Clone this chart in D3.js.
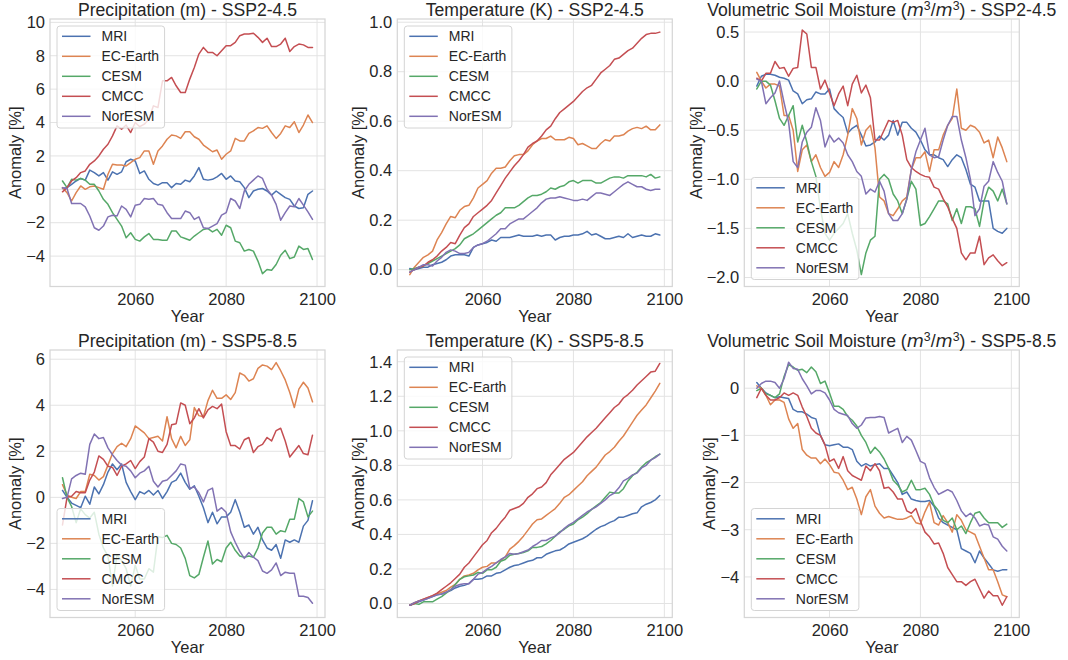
<!DOCTYPE html>
<html>
<head>
<meta charset="utf-8">
<script src="https://cdn.jsdelivr.net/npm/d3@7"></script>
<style>
  body { margin: 0; background: #ffffff; }
  svg text { font-family: "Liberation Sans", Arial, Helvetica, sans-serif; fill: #262626; }
</style>
</head>
<body>
<svg id="fig" width="1068" height="660"></svg>
<script>
// ---- data -------------------------------------------------------------
const years = d3.range(2044, 2100);
const models = ["MRI", "EC-Earth", "CESM", "CMCC", "NorESM"];
const palette = ["#4C72B0", "#DD8452", "#55A868", "#C44E52", "#8172B3"];
const xTicks = [2060, 2080, 2100];

// Precipitation anomaly [%], SSP2-4.5
const pr245MRI = [0.05,0.1,0.3,0.5,0.65,0.55,1.15,1.0,0.8,1.0, 0.55,1.05,0.9,1.05,1.65,1.8,1.7,0.95,1.1,0.6, 0.35,0.25,0.4,0.4,0.1,0.35,0.3,0.55,0.45,0.8, 1.3,0.6,0.55,0.6,0.75,0.95,0.6,0.8,0.5,0.45, 0.1,-0.5,-0.1,0.0,0.05,-0.1,-0.35,-0.1,-0.3,-0.5, -0.6,-1.0,-1.15,-1.1,-0.3,-0.1];
const pr245EC = [0.1,-0.2,-0.7,-0.2,0.2,0.0,0.15,0.2,0.1,0.0, 0.9,1.5,1.45,1.45,1.4,1.6,1.8,1.9,2.3,2.3, 1.5,2.3,2.6,3.0,3.25,3.2,3.05,3.45,3.45,3.15, 3.0,2.65,2.45,2.25,2.35,1.8,2.1,2.3,3.05,2.9, 2.9,3.35,3.5,3.7,3.65,3.8,3.4,3.05,3.35,3.8, 3.7,4.05,3.4,3.85,4.45,4.0];
const pr245CESM = [0.5,0.1,0.6,0.55,0.65,0.55,0.3,0.3,-0.1,-0.6, -0.9,-1.4,-1.8,-2.2,-2.9,-2.6,-3.0,-3.1,-2.85,-2.65, -3.0,-3.0,-3.05,-3.05,-2.5,-2.5,-2.85,-2.95,-3.05,-2.8, -2.6,-2.4,-2.35,-2.55,-2.4,-2.75,-2.15,-2.3,-3.1,-3.2, -3.7,-3.6,-3.7,-4.3,-5.05,-4.8,-4.85,-4.5,-3.95,-3.65, -4.15,-4.05,-3.4,-3.6,-3.55,-4.2];
const pr245CMCC = [-0.15,0.1,0.5,0.7,1.0,1.1,1.5,1.7,2.0,2.4, 2.7,3.2,3.8,3.6,3.85,3.4,4.0,3.75,3.9,4.2, 5.0,4.9,6.5,6.5,6.7,6.2,5.8,5.8,6.6,7.3, 8.1,8.5,8.2,8.2,8.0,8.3,8.6,8.6,8.8,9.2, 9.3,9.3,9.35,9.1,8.8,9.05,8.55,8.55,8.7,9.05, 8.25,8.55,8.7,8.65,8.5,8.5];
const pr245Nor = [0.1,0.05,-0.85,-0.85,-0.85,-1.05,-1.6,-2.3,-2.45,-2.2, -1.65,-1.55,-1.6,-1.0,-1.2,-1.65,-0.95,-0.9,-0.55,-0.6, -0.55,-0.9,-0.95,-1.4,-1.75,-1.75,-1.75,-1.3,-1.4,-1.8, -1.65,-2.3,-2.35,-2.2,-2.05,-1.55,-1.4,-0.55,-0.7,-1.15, -0.1,0.3,0.55,0.8,0.65,0.0,-0.35,-0.9,-1.85,-1.4, -1.0,-1.05,-0.55,-0.95,-1.35,-1.8];

// Temperature anomaly, SSP2-4.5
const ta245MRI = [0.005,0.0,0.005,0.01,0.01,0.02,0.025,0.03,0.04,0.055, 0.06,0.06,0.06,0.055,0.09,0.1,0.105,0.11,0.12,0.115, 0.13,0.13,0.13,0.135,0.14,0.135,0.135,0.135,0.14,0.135, 0.14,0.14,0.12,0.13,0.135,0.135,0.14,0.14,0.145,0.155, 0.14,0.145,0.135,0.125,0.125,0.13,0.135,0.13,0.145,0.13, 0.135,0.14,0.135,0.135,0.145,0.14];
const ta245EC = [-0.02,0.01,0.03,0.05,0.06,0.075,0.12,0.15,0.185,0.215, 0.21,0.24,0.255,0.26,0.29,0.33,0.345,0.36,0.39,0.41, 0.41,0.415,0.44,0.46,0.465,0.465,0.48,0.505,0.52,0.53, 0.53,0.54,0.525,0.525,0.525,0.535,0.53,0.505,0.51,0.5, 0.49,0.49,0.51,0.525,0.52,0.54,0.54,0.545,0.56,0.57, 0.575,0.57,0.58,0.565,0.565,0.585];
const ta245CESM = [0.0,0.005,0.01,0.015,0.025,0.035,0.045,0.055,0.065,0.075, 0.085,0.1,0.125,0.135,0.145,0.16,0.175,0.19,0.205,0.22, 0.23,0.25,0.25,0.25,0.26,0.275,0.29,0.3,0.3,0.305, 0.315,0.33,0.325,0.335,0.34,0.355,0.36,0.35,0.36,0.36, 0.36,0.35,0.35,0.36,0.37,0.375,0.375,0.37,0.38,0.38, 0.38,0.38,0.375,0.385,0.37,0.375];
const ta245CMCC = [-0.01,0.0,0.01,0.015,0.03,0.04,0.055,0.075,0.09,0.11, 0.105,0.14,0.17,0.185,0.215,0.23,0.245,0.26,0.28,0.31, 0.34,0.37,0.395,0.42,0.44,0.465,0.495,0.51,0.52,0.54, 0.565,0.58,0.61,0.635,0.65,0.665,0.68,0.7,0.72,0.735, 0.745,0.77,0.795,0.81,0.825,0.85,0.855,0.87,0.885,0.895, 0.915,0.935,0.95,0.955,0.955,0.96];
const ta245Nor = [-0.01,0.0,0.01,0.02,0.02,0.015,0.035,0.05,0.07,0.08, 0.075,0.065,0.065,0.07,0.09,0.1,0.105,0.115,0.13,0.145, 0.165,0.165,0.185,0.195,0.205,0.205,0.22,0.235,0.25,0.27, 0.285,0.29,0.29,0.295,0.29,0.285,0.28,0.28,0.285,0.28, 0.295,0.31,0.31,0.305,0.3,0.315,0.33,0.345,0.355,0.345, 0.335,0.335,0.325,0.32,0.325,0.325];

// Volumetric soil moisture anomaly, SSP2-4.5
const sm245MRI = [-0.05,0.05,0.07,0.07,0.06,0.04,0.03,0.01,-0.1,-0.13, -0.23,-0.19,-0.18,-0.11,-0.13,-0.13,-0.08,-0.28,-0.33,-0.37, -0.53,-0.48,-0.45,-0.55,-0.66,-0.65,-0.62,-0.56,-0.6,-0.55, -0.4,-0.55,-0.42,-0.42,-0.48,-0.52,-0.6,-0.7,-0.75,-0.75, -0.78,-0.8,-0.87,-0.8,-0.75,-0.78,-0.9,-1.05,-1.08,-1.22, -1.22,-1.22,-1.5,-1.53,-1.55,-1.5];
const sm245EC = [0.09,0.0,-0.07,-0.03,-0.03,-0.05,-0.35,-0.35,-0.5,-0.92, -0.7,-0.65,-0.82,-0.75,-0.88,-0.97,-0.93,-0.82,-0.88,-0.75, -0.55,-0.28,-0.38,-0.65,-0.5,-0.45,-0.68,-1.18,-1.22,-1.35, -1.37,-1.3,-1.22,-1.18,-0.9,-0.78,-0.78,-0.72,-0.92,-0.7, -0.7,-0.55,-0.45,-0.38,-0.08,-0.48,-0.5,-0.45,-0.47,-0.52, -0.63,-0.6,-0.78,-0.57,-0.68,-0.82];
const sm245CESM = [-0.08,0.0,0.0,-0.04,-0.2,-0.38,-0.45,-0.35,-0.25,-0.62, -0.45,-0.62,-0.82,-0.97,-1.3,-1.55,-1.62,-1.55,-1.5,-1.45, -1.35,-1.55,-1.72,-1.97,-1.75,-1.62,-1.58,-1.0,-0.95,-1.0, -1.15,-1.22,-1.35,-1.2,-1.02,-1.1,-1.47,-1.45,-1.38,-1.3, -1.22,-1.22,-1.25,-1.42,-1.3,-1.45,-1.28,-1.28,-1.3,-1.48, -1.22,-1.08,-1.12,-1.22,-1.1,-1.25];
const sm245CMCC = [0.03,0.0,0.08,0.08,0.2,0.13,0.14,0.05,0.13,0.14, 0.52,0.48,0.14,0.14,-0.08,0.01,-0.12,-0.25,-0.13,-0.05, -0.25,-0.03,0.06,-0.12,-0.04,-0.17,-0.6,-0.6,-0.5,-0.4, -0.42,-0.4,-0.55,-0.8,-0.88,-0.92,-0.95,-0.97,-0.98,-1.08, -1.1,-1.2,-1.28,-1.4,-1.5,-1.75,-1.82,-1.75,-1.75,-1.58, -1.87,-1.8,-1.77,-1.83,-1.88,-1.85];
const sm245Nor = [0.02,0.0,-0.23,-0.17,-0.12,0.0,-0.22,-0.42,-0.82,-0.88, -0.62,-0.52,-0.47,-0.27,-0.4,-0.67,-0.55,-0.62,-0.58,-0.63, -0.75,-0.82,-0.92,-0.97,-1.15,-1.1,-1.13,-1.02,-1.12,-1.35, -1.42,-1.42,-1.35,-1.2,-0.9,-0.72,-0.6,-0.48,-0.75,-0.78, -0.77,-0.6,-0.45,-0.36,-0.36,-0.6,-0.78,-1.0,-1.37,-1.3, -1.07,-1.02,-0.82,-0.93,-1.02,-1.25];

// Precipitation anomaly [%], SSP5-8.5
const pr585MRI = [0.3,0.0,-0.25,-0.35,-0.45,0.05,-0.3,0.45,0.15,0.55, 1.1,1.45,1.2,1.45,0.65,0.25,-0.1,0.25,0.15,0.3, 0.1,0.3,-0.05,0.25,0.65,0.75,1.05,0.65,0.35,0.5, 0.05,-0.45,-1.1,-0.65,-1.15,-0.85,-0.85,-0.65,-0.1,-0.65, -1.3,-1.2,-1.6,-1.3,-1.85,-2.2,-2.3,-2.05,-2.65,-1.85, -1.95,-1.85,-1.95,-1.25,-1.0,-0.15];
const pr585EC = [0.55,0.1,0.0,-0.05,0.25,0.25,1.0,0.95,0.75,0.9, 1.4,1.9,2.2,2.35,2.2,2.55,3.1,2.95,2.8,2.55, 2.6,2.65,2.45,3.5,2.55,2.15,2.65,2.25,2.5,3.9, 3.55,3.5,4.2,4.65,4.3,4.3,4.45,4.25,4.55,5.4, 5.3,5.05,5.15,5.6,5.75,5.7,5.55,5.85,5.5,5.1, 4.55,3.9,4.7,5.0,4.75,4.15];
const pr585CESM = [0.85,0.0,-0.4,-1.1,-0.5,-0.75,-0.9,-0.65,-1.6,-2.2, -2.55,-3.85,-2.5,-2.75,-3.1,-3.85,-2.95,-3.55,-3.55,-3.1, -3.25,-1.7,-1.75,-1.65,-2.0,-2.05,-2.2,-2.65,-3.4,-3.5, -3.35,-2.6,-1.9,-2.9,-2.7,-2.8,-2.2,-1.95,-2.3,-2.55, -2.6,-2.55,-2.6,-2.2,-1.55,-1.3,-1.3,-1.6,-1.45,-1.5, -0.95,-0.95,-0.05,-0.2,-0.85,-0.6];
const pr585CMCC = [-1.2,0.0,0.05,0.25,0.2,0.2,0.75,1.1,1.8,1.65, 1.35,1.3,0.95,1.35,1.45,1.6,1.25,1.55,1.75,2.55, 2.4,2.0,1.95,2.3,3.15,3.2,4.1,4.0,3.2,3.45, 3.85,3.45,3.8,3.95,3.85,4.05,2.85,2.25,2.25,2.1, 2.5,2.6,1.95,2.2,2.3,2.6,2.45,2.9,3.0,2.45, 1.75,2.0,2.25,1.9,1.85,2.7];
const pr585Nor = [-0.05,0.0,0.8,0.95,1.05,1.0,2.3,2.75,2.55,2.6, 2.15,1.85,1.6,1.4,1.35,1.15,0.85,1.05,1.15,1.35, 0.7,0.45,0.7,0.75,0.95,1.15,1.45,1.4,0.4,0.45, 0.2,-0.2,0.3,0.4,-0.6,-0.45,-0.65,-1.5,-1.95,-2.35, -2.65,-2.4,-2.6,-2.75,-3.2,-3.3,-3.15,-2.85,-3.4,-3.25, -3.3,-3.3,-4.3,-4.3,-4.35,-4.6];

// Temperature anomaly, SSP5-8.5
const ta585MRI = [-0.01,0.0,0.01,0.02,0.03,0.04,0.05,0.055,0.065,0.075, 0.09,0.1,0.105,0.115,0.14,0.14,0.145,0.16,0.16,0.175, 0.18,0.195,0.21,0.22,0.225,0.235,0.245,0.25,0.265,0.265, 0.285,0.295,0.305,0.31,0.325,0.345,0.355,0.365,0.375,0.39, 0.41,0.43,0.445,0.455,0.47,0.48,0.5,0.5,0.51,0.52, 0.525,0.56,0.575,0.585,0.6,0.625];
const ta585EC = [-0.01,0.005,0.015,0.025,0.035,0.045,0.055,0.065,0.075,0.095, 0.11,0.14,0.16,0.165,0.175,0.195,0.21,0.215,0.235,0.235, 0.25,0.27,0.315,0.335,0.36,0.39,0.425,0.46,0.485,0.49, 0.51,0.53,0.55,0.58,0.615,0.63,0.655,0.68,0.705,0.74, 0.765,0.79,0.825,0.86,0.88,0.905,0.94,0.97,1.01,1.05, 1.09,1.12,1.15,1.19,1.23,1.275];
const ta585CESM = [-0.01,0.0,-0.005,0.01,0.01,0.01,0.025,0.04,0.06,0.08, 0.11,0.14,0.155,0.16,0.165,0.18,0.175,0.195,0.195,0.21, 0.245,0.255,0.28,0.285,0.29,0.295,0.305,0.325,0.325,0.33, 0.345,0.365,0.39,0.415,0.43,0.45,0.46,0.485,0.5,0.52, 0.545,0.565,0.585,0.615,0.645,0.64,0.64,0.665,0.71,0.74, 0.76,0.79,0.815,0.83,0.85,0.865];
const ta585CMCC = [-0.01,0.0,0.015,0.025,0.035,0.045,0.06,0.08,0.1,0.12, 0.145,0.17,0.21,0.235,0.27,0.305,0.34,0.365,0.41,0.435, 0.47,0.5,0.54,0.55,0.56,0.58,0.615,0.635,0.665,0.675, 0.7,0.745,0.775,0.805,0.835,0.855,0.875,0.905,0.935,0.965, 0.99,1.015,1.045,1.075,1.105,1.135,1.155,1.19,1.21,1.235, 1.265,1.29,1.315,1.34,1.345,1.39];
const ta585Nor = [-0.01,0.005,0.015,0.02,0.03,0.04,0.05,0.055,0.065,0.08, 0.1,0.11,0.115,0.115,0.14,0.17,0.18,0.2,0.215,0.235, 0.255,0.27,0.29,0.285,0.29,0.3,0.31,0.33,0.345,0.365, 0.365,0.38,0.39,0.41,0.435,0.455,0.47,0.49,0.51,0.53, 0.545,0.56,0.58,0.6,0.625,0.64,0.67,0.71,0.725,0.745, 0.755,0.785,0.8,0.83,0.845,0.865];

// Volumetric soil moisture anomaly, SSP5-8.5
const sm585MRI = [0.12,0.0,-0.1,-0.15,-0.2,-0.18,-0.2,-0.22,-0.45,-0.5, -0.5,-0.55,-0.62,-0.65,-1.0,-1.2,-1.22,-1.2,-1.18,-1.25, -1.25,-1.3,-1.55,-1.65,-1.6,-1.65,-1.62,-1.6,-1.7,-1.7, -1.85,-2.0,-2.25,-2.2,-2.35,-2.38,-2.4,-2.4,-2.38,-2.5, -2.75,-2.85,-2.9,-2.95,-3.0,-3.4,-3.45,-3.5,-3.7,-3.45, -3.6,-3.72,-3.85,-3.88,-3.85,-3.85];
const sm585EC = [0.05,0.0,-0.15,-0.35,-0.25,-0.25,-0.3,-0.65,-0.85,-0.75, -1.3,-1.42,-1.48,-1.48,-1.6,-1.5,-1.62,-1.78,-1.8,-1.95, -2.15,-2.1,-2.35,-2.68,-2.3,-2.15,-2.5,-2.65,-2.75,-2.72, -2.75,-2.78,-2.78,-2.75,-2.7,-2.85,-2.88,-2.62,-2.42,-2.85, -2.9,-2.7,-2.85,-3.05,-2.68,-2.8,-3.0,-3.05,-3.1,-3.35, -3.6,-3.85,-3.85,-4.1,-4.38,-4.42];
const sm585CESM = [-0.05,0.0,-0.12,-0.15,-0.2,-0.12,0.25,0.5,0.45,0.38, 0.4,0.33,0.45,0.35,0.1,0.15,-0.1,-0.38,-0.38,-0.45, -0.6,-0.68,-0.8,-1.0,-1.15,-1.38,-1.25,-1.35,-1.5,-1.7, -1.95,-2.05,-2.2,-2.15,-1.95,-2.15,-2.15,-2.12,-2.25,-2.48, -2.6,-2.8,-2.85,-2.75,-3.0,-2.92,-3.08,-2.85,-2.65,-2.62, -2.75,-2.85,-2.85,-2.85,-2.95,-2.88];
const sm585CMCC = [-0.2,0.0,-0.15,-0.25,-0.25,-0.2,-0.1,-0.15,-0.1,-0.15, -0.4,-0.6,-0.85,-0.95,-1.0,-1.2,-1.55,-1.5,-1.7,-1.45, -1.75,-1.85,-1.9,-1.95,-1.65,-1.75,-1.6,-1.75,-2.12,-2.1, -2.2,-2.35,-2.35,-2.6,-2.65,-2.55,-2.82,-3.05,-3.15,-3.3, -3.28,-3.5,-3.8,-3.95,-4.1,-4.1,-4.18,-4.1,-4.05,-4.25, -4.45,-4.3,-4.4,-4.4,-4.6,-4.42];
const sm585Nor = [0.0,0.1,0.15,0.15,0.12,0.0,0.2,0.55,0.42,0.4, 0.2,0.05,-0.12,-0.05,-0.05,-0.1,-0.25,-0.45,-0.52,-0.55, -0.58,-0.75,-0.85,-0.78,-0.63,-0.62,-0.62,-0.6,-0.62,-0.95, -0.9,-0.85,-1.15,-1.02,-1.1,-1.32,-1.55,-1.6,-1.9,-2.1, -2.25,-2.2,-2.15,-2.2,-2.38,-2.6,-2.72,-2.65,-2.75,-2.92, -2.88,-2.9,-3.15,-3.2,-3.35,-3.45];

// y tick values per panel
const ticksPr245 = [-4, -2, 0, 2, 4, 6, 8, 10];
const ticksTa245 = [0.0, 0.2, 0.4, 0.6, 0.8, 1.0];
const ticksSm245 = [-2.0, -1.5, -1.0, -0.5, 0.0, 0.5];
const ticksPr585 = [-4, -2, 0, 2, 4, 6];
const ticksTa585 = [0.0, 0.2, 0.4, 0.6, 0.8, 1.0, 1.2, 1.4];
const ticksSm585 = [-4, -3, -2, -1, 0];

// ---- panel definitions ------------------------------------------------
const panels = [
  { row: 0, col: 0, title: "Precipitation (m) - SSP2-4.5", soil: false, scen: "SSP2-4.5",
    series: [pr245MRI, pr245EC, pr245CESM, pr245CMCC, pr245Nor],
    yDomain: [-5.82, 10.2], ticks: ticksPr245, fmt: d3.format("d"), legend: "top" },
  { row: 0, col: 1, title: "Temperature (K) - SSP2-4.5", soil: false, scen: "SSP2-4.5",
    series: [ta245MRI, ta245EC, ta245CESM, ta245CMCC, ta245Nor],
    yDomain: [-0.068, 1.013], ticks: ticksTa245, fmt: d3.format(".1f"), legend: "top" },
  { row: 0, col: 2, title: null, soil: true, scen: "SSP2-4.5",
    series: [sm245MRI, sm245EC, sm245CESM, sm245CMCC, sm245Nor],
    yDomain: [-2.092, 0.633], ticks: ticksSm245, fmt: d3.format(".1f"), legend: "bottom" },
  { row: 1, col: 0, title: "Precipitation (m) - SSP5-8.5", soil: false, scen: "SSP5-8.5",
    series: [pr585MRI, pr585EC, pr585CESM, pr585CMCC, pr585Nor],
    yDomain: [-5.22, 6.4], ticks: ticksPr585, fmt: d3.format("d"), legend: "bottom" },
  { row: 1, col: 1, title: "Temperature (K) - SSP5-8.5", soil: false, scen: "SSP5-8.5",
    series: [ta585MRI, ta585EC, ta585CESM, ta585CMCC, ta585Nor],
    yDomain: [-0.081, 1.468], ticks: ticksTa585, fmt: d3.format(".1f"), legend: "top" },
  { row: 1, col: 2, title: null, soil: true, scen: "SSP5-8.5",
    series: [sm585MRI, sm585EC, sm585CESM, sm585CMCC, sm585Nor],
    yDomain: [-4.86, 0.81], ticks: ticksSm585, fmt: d3.format("d"), legend: "bottom" }
];

// ---- layout -------------------------------------------------------------
const colLeft = [50, 397.3, 744.3];
const rowTop = [19, 350];
const axW = 275, axH = 267.5;
const gridColor = "#e3e3e3";
const spineColor = "#d6d6d6";

const svg = d3.select("#fig");

panels.forEach(p => {
  const left = colLeft[p.col], top = rowTop[p.row];
  const g = svg.append("g").attr("transform", `translate(${left},${top})`);

  const x = d3.scaleLinear().domain([2041.25, 2101.75]).range([0, axW]);
  const y = d3.scaleLinear().domain(p.yDomain).range([axH, 0]);

  // grid
  g.append("g").selectAll("line").data(xTicks).join("line")
    .attr("x1", d => x(d)).attr("x2", d => x(d))
    .attr("y1", 0).attr("y2", axH)
    .attr("stroke", gridColor).attr("stroke-width", 1);
  g.append("g").selectAll("line").data(p.ticks).join("line")
    .attr("x1", 0).attr("x2", axW)
    .attr("y1", d => y(d)).attr("y2", d => y(d))
    .attr("stroke", gridColor).attr("stroke-width", 1);

  // spines
  g.append("rect").attr("x", 0).attr("y", 0).attr("width", axW).attr("height", axH)
    .attr("fill", "none").attr("stroke", spineColor).attr("stroke-width", 1.25);

  // axes
  const xAxis = g.append("g").attr("transform", `translate(0,${axH})`)
    .call(d3.axisBottom(x).tickValues(xTicks).tickFormat(d3.format("d")).tickSize(0).tickPadding(7));
  const yAxis = g.append("g")
    .call(d3.axisLeft(y).tickValues(p.ticks).tickFormat(p.fmt).tickSize(0).tickPadding(5));
  [xAxis, yAxis].forEach(a => {
    a.select(".domain").remove();
    a.selectAll("text").attr("font-size", 16.5)
      .style("font-family", '"Liberation Sans", Arial, sans-serif').attr("fill", "#262626");
  });
  xAxis.selectAll("text").attr("dy", "0.71em");

  // axis labels
  g.append("text").attr("x", axW / 2).attr("y", axH + 35.5)
    .attr("text-anchor", "middle").attr("font-size", 16.5).text("Year");
  const yb = yAxis.node().getBBox();
  g.append("text")
    .attr("transform", `translate(${yb.x - 5},${axH / 2}) rotate(-90)`)
    .attr("text-anchor", "middle").attr("font-size", 16.5).text("Anomaly [%]");

  // title
  const t = g.append("text").attr("x", axW / 2).attr("y", -3)
    .attr("text-anchor", "middle").attr("font-size", 17.6);
  if (!p.soil) {
    t.text(p.title);
  } else {
    t.append("tspan").text("Volumetric Soil Moisture (");
    const unit = () => {
      t.append("tspan").style("font-family", '"DejaVu Sans", sans-serif')
        .style("font-style", "italic").text("m");
      t.append("tspan").attr("font-size", 12.3).attr("dy", -6).text("3");
    };
    unit();
    t.append("tspan").attr("dy", 6).text("/");
    unit();
    t.append("tspan").attr("dy", 6).text(") - " + p.scen);
  }

  // series
  const line = d3.line().x((d, i) => x(years[i])).y(d => y(d));
  p.series.forEach((s, k) => {
    g.append("path").datum(s)
      .attr("d", line)
      .attr("fill", "none")
      .attr("stroke", palette[k])
      .attr("stroke-width", 1.5)
      .attr("stroke-linejoin", "round")
      .attr("stroke-linecap", "round");
  });

  // legend
  const lg = g.append("g");
  const items = lg.append("g");
  models.forEach((m, k) => {
    const cy = 10.3 + k * 20;
    items.append("line").attr("x1", 5).attr("x2", 33.5)
      .attr("y1", cy).attr("y2", cy)
      .attr("stroke", palette[k]).attr("stroke-width", 1.5);
    items.append("text").attr("x", 44.5).attr("y", cy).attr("dy", "0.35em")
      .attr("font-size", 14).text(m);
  });
  const ib = items.node().getBBox();
  const lw = ib.x + ib.width + 5.5, lh = 102;
  lg.insert("rect", ":first-child")
    .attr("x", 0).attr("y", 0).attr("width", lw).attr("height", lh)
    .attr("rx", 3).attr("ry", 3)
    .attr("fill", "#ffffff").attr("fill-opacity", 0.8)
    .attr("stroke", "#d4d4d4").attr("stroke-width", 1);
  const ly = p.legend === "top" ? 7 : axH - 7 - lh;
  lg.attr("transform", `translate(7,${ly})`);
});
</script>
</body>
</html>
